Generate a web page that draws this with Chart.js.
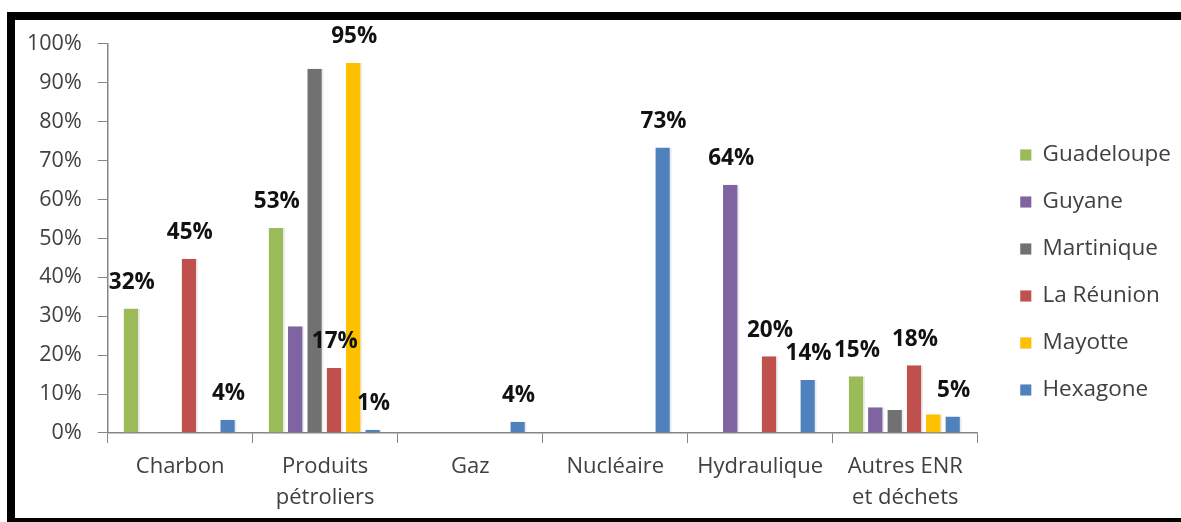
<!DOCTYPE html>
<html>
<head>
<meta charset="utf-8">
<script src="https://cdn.jsdelivr.net/npm/chart.js@4/dist/chart.umd.min.js"></script>
<style>
  body { margin: 0; background: #fff; width: 1181px; height: 522px; overflow: hidden; position: relative; }
  #frame { position: absolute; left: 7px; top: 12px; width: 1200px; height: 498px;
           border-top: 8px solid #000; border-left: 8px solid #000; border-bottom: 4px solid #000; background: #fff; }
  #chart { position: absolute; left: 11px; top: 15px; }
</style>
</head>
<body>
<div id="frame"></div>
<canvas id="chart" width="1170" height="507"></canvas>
<script>
const categories = ['Charbon', ['Produits', 'pétroliers'], 'Gaz', 'Nucléaire', 'Hydraulique', ['Autres ENR', 'et déchets']];
const yTicks = [0, 10, 20, 30, 40, 50, 60, 70, 80, 90, 100];

// valeurs (%)
const guadeloupe = [32, 52.7, null, null, null, 14.6];
const guyane = [null, 27.4, null, null, 63.8, 6.6];
const martinique = [null, 93.6, null, null, null, 5.9];
const reunion = [44.8, 16.7, null, null, 19.7, 17.4];
const mayotte = [null, 95.1, null, null, null, 4.8];
const hexagone = [3.4, 0.8, 2.9, 73.4, 13.6, 4.2];

// etiquettes affichées au-dessus des barres
const lblGuadeloupe = ['32%', '53%', null, null, null, '15%'];
const lblGuyane = [null, null, null, null, '64%', null];
const lblMartinique = [null, null, null, null, null, null];
const lblReunion = ['45%', '17%', null, null, '20%', '18%'];
const lblMayotte = [null, '95%', null, null, null, null];
const lblHexagone = ['4%', '1%', '4%', '73%', '14%', '5%'];

const series = [
    { name: 'Guadeloupe', data: guadeloupe, lbl: lblGuadeloupe, color: '#9BBB59' },
    { name: 'Guyane', data: guyane, lbl: lblGuyane, color: '#8064A2' },
    { name: 'Martinique', data: martinique, lbl: lblMartinique, color: '#717171' },
    { name: 'La Réunion', data: reunion, lbl: lblReunion, color: '#C0504D' },
    { name: 'Mayotte', data: mayotte, lbl: lblMayotte, color: '#FFC000' },
    { name: 'Hexagone', data: hexagone, lbl: lblHexagone, color: '#4F81BD' }
];

const barLabels = {
    id: 'barLabels',
    afterDatasetsDraw(chart) {
        const ctx = chart.ctx;
        ctx.save();
        ctx.font = 'bold 22.5px "Open Sans"';
        ctx.fillStyle = '#111';
        ctx.textAlign = 'center';
        ctx.textBaseline = 'middle';
        chart.data.datasets.forEach((ds, i) => {
            const meta = chart.getDatasetMeta(i);
            ds.lbl.forEach((t, j) => {
                if (!t) return;
                const bar = meta.data[j];
                ctx.fillText(t, bar.x, bar.y - 26);
            });
        });
        ctx.restore();
    }
};

new Chart(document.getElementById('chart'), {
    type: 'bar',
    data: {
        labels: categories,
        datasets: series.map(s => ({
            label: s.name,
            data: s.data,
            lbl: s.lbl,
            backgroundColor: s.color,
            borderColor: 'rgba(0,0,0,0.08)',
            borderWidth: { right: 2 },
            categoryPercentage: 0.8,
            barPercentage: 0.85
        }))
    },
    options: {
        responsive: false,
        animation: false,
        layout: { padding: { left: 0, top: 8, bottom: 0, right: 0 } },
        plugins: {
            legend: {
                position: 'right',
                labels: {
                    boxWidth: 11,
                    boxHeight: 11,
                    padding: 24.5,
                    color: '#404040',
                    font: { family: 'Open Sans', size: 22.5 }
                }
            },
            tooltip: { enabled: false }
        },
        scales: {
            x: {
                grid: { display: true, drawOnChartArea: false, tickLength: 10, color: '#868686', offset: true },
                border: { color: '#868686', width: 1.5 },
                ticks: { color: '#404040', padding: 8.5, maxRotation: 0, font: { family: 'Open Sans', size: 22, lineHeight: 1.41 } }
            },
            y: {
                min: 0,
                max: 100,
                afterBuildTicks: axis => { axis.ticks = yTicks.map(v => ({ value: v })); },
                grid: { display: true, drawOnChartArea: false, tickLength: 10, color: '#868686' },
                border: { color: '#868686', width: 1.5 },
                ticks: { color: '#404040', padding: 16, callback: v => v + '%', font: { family: 'Open Sans', size: 21.5 } }
            },
            spacer: {
                position: 'right',
                display: true,
                grid: { display: false },
                border: { display: false },
                ticks: { display: false },
                afterFit: s => { s.width = 18; }
            }
        }
    },
    plugins: [barLabels]
});
</script>
</body>
</html>
